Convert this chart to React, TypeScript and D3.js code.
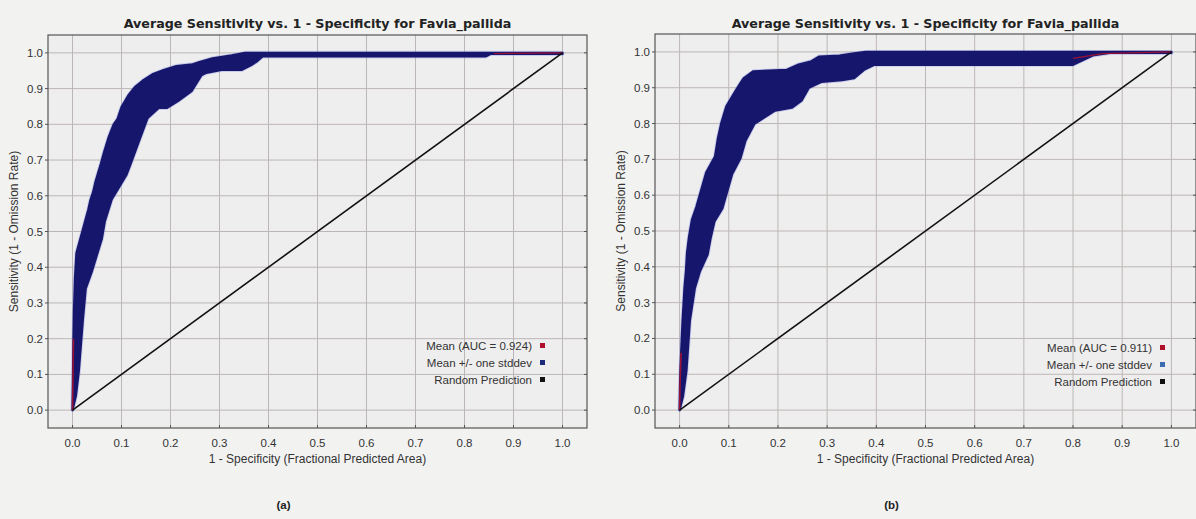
import React from "react";
import * as d3 from "d3";

// Shared axis ticks (both axes run 0.0 … 1.0)
const xTicks = [0, 0.1, 0.2, 0.3, 0.4, 0.5, 0.6, 0.7, 0.8, 0.9, 1.0];
const yTicks = [0, 0.1, 0.2, 0.3, 0.4, 0.5, 0.6, 0.7, 0.8, 0.9, 1.0];

const chartTitle = "Average Sensitivity vs. 1 - Specificity for Favia_pallida";
const xLabel = "1 - Specificity (Fractional Predicted Area)";
const yLabel = "Sensitivity (1 - Omission Rate)";
const legendLabelsA = ["Mean (AUC = 0.924)", "Mean +/- one stddev", "Random Prediction"];
const legendLabelsB = ["Mean (AUC = 0.911)", "Mean +/- one stddev", "Random Prediction"];

// Panel (a): upper (mean + sd) boundary, [1 - specificity, sensitivity]
const upperA: [number, number][] = [
  [0, 0], [0.001, 0.1], [0.002, 0.2], [0.003, 0.28], [0.005, 0.37], [0.008, 0.44],
  [0.014, 0.47], [0.02, 0.5], [0.026, 0.53], [0.032, 0.56], [0.037, 0.59],
  [0.042, 0.61], [0.047, 0.64], [0.058, 0.69], [0.064, 0.72], [0.074, 0.765],
  [0.084, 0.8], [0.092, 0.815], [0.1, 0.848], [0.115, 0.883], [0.128, 0.905],
  [0.143, 0.922], [0.163, 0.94], [0.186, 0.952], [0.212, 0.963], [0.245, 0.968],
  [0.259, 0.974], [0.286, 0.985], [0.325, 0.993], [0.352, 1.0], [1.0, 1.0],
];
// Panel (a): lower (mean - sd) boundary, from right to left
const lowerA: [number, number][] = [
  [1.0, 0.997], [0.853, 0.997], [0.843, 0.99], [0.388, 0.99], [0.375, 0.975],
  [0.365, 0.966], [0.345, 0.952], [0.304, 0.952], [0.273, 0.944], [0.263, 0.937],
  [0.243, 0.893], [0.216, 0.866], [0.193, 0.846], [0.176, 0.846], [0.153, 0.817],
  [0.135, 0.75], [0.12, 0.694], [0.11, 0.658], [0.095, 0.624], [0.08, 0.59],
  [0.066, 0.528], [0.06, 0.48], [0.05, 0.435], [0.04, 0.39], [0.027, 0.34],
  [0.021, 0.25], [0.013, 0.11], [0.007, 0.04], [0, 0],
];
// Panel (a): mean curve
const meanA: [number, number][] = [
  [0, 0], [0.001, 0.1], [0.002, 0.2], [0.01, 0.3], [0.02, 0.41], [0.04, 0.51],
  [0.06, 0.6], [0.08, 0.69], [0.1, 0.75], [0.13, 0.83], [0.16, 0.88], [0.2, 0.91],
  [0.25, 0.945], [0.3, 0.967], [0.36, 0.99], [0.4, 0.996], [0.86, 0.998], [1.0, 1.0],
];

// Panel (b): upper boundary
const upperB: [number, number][] = [
  [0, 0], [0.001, 0.081], [0.003, 0.157], [0.006, 0.25], [0.01, 0.343],
  [0.013, 0.39], [0.015, 0.438], [0.019, 0.483], [0.025, 0.531], [0.034, 0.567],
  [0.044, 0.615], [0.054, 0.663], [0.072, 0.708], [0.078, 0.76], [0.085, 0.803],
  [0.095, 0.848], [0.116, 0.896], [0.13, 0.926], [0.15, 0.946], [0.218, 0.95],
  [0.242, 0.965], [0.268, 0.974], [0.284, 0.987], [0.325, 0.99], [0.351, 0.995],
  [0.378, 1.0], [1.0, 1.0],
];
// Panel (b): lower boundary, from right to left
const lowerB: [number, number][] = [
  [1.0, 0.997], [0.874, 0.997], [0.84, 0.99], [0.8, 0.964], [0.396, 0.964],
  [0.375, 0.95], [0.355, 0.927], [0.33, 0.921], [0.288, 0.916], [0.263, 0.9],
  [0.248, 0.864], [0.228, 0.844], [0.194, 0.836], [0.171, 0.816], [0.152, 0.799],
  [0.134, 0.752], [0.124, 0.704], [0.107, 0.659], [0.087, 0.563], [0.071, 0.527],
  [0.063, 0.479], [0.057, 0.434], [0.041, 0.386], [0.031, 0.34], [0.021, 0.25],
  [0.014, 0.11], [0.007, 0.039], [0, 0],
];
// Panel (b): mean curve
const meanB: [number, number][] = [
  [0, 0], [0.001, 0.08], [0.003, 0.16], [0.01, 0.28], [0.02, 0.4], [0.04, 0.52],
  [0.06, 0.61], [0.08, 0.68], [0.1, 0.77], [0.13, 0.85], [0.17, 0.9], [0.22, 0.92],
  [0.27, 0.94], [0.32, 0.955], [0.38, 0.98], [0.8, 0.982], [0.86, 0.995], [1.0, 1.0],
];

// Random prediction diagonal
const randomLine: [number, number][] = [[0, 0], [1, 1]];

const FONT = "'Liberation Sans', Arial, sans-serif";
const TITLE_FONT = "'DejaVu Sans', Verdana, sans-serif";
const BAND = "#16176c";
const MEAN = "#b0102a";

type PanelProps = {
  left: number; right: number; top: number; bottom: number;
  upper: [number, number][]; lower: [number, number][]; mean: [number, number][];
  legend: string[]; legendColors: string[]; legendX: number; legendY: number; tag: string;
};

function Panel(p: PanelProps) {
  const x = d3.scaleLinear().domain([-0.05, 1.05]).range([p.left, p.right]);
  const y = d3.scaleLinear().domain([-0.05, 1.05]).range([p.bottom, p.top]);
  const line = d3.line<[number, number]>().x((d) => x(d[0])).y((d) => y(d[1]));
  const bandPath = line([...p.upper, ...p.lower]) + "Z";
  const cx = (p.left + p.right) / 2;
  const cy = (p.top + p.bottom) / 2;
  const clipId = "clip-" + p.tag;
  // Parts of the mean curve that show outside the stddev band
  const meanLow = p.mean.filter((d) => d[1] <= 0.2);
  const meanHigh = p.mean.filter((d) => d[0] >= 0.8);

  return (
    <g>
      <defs>
        <clipPath id={clipId}>
          <rect x={p.left} y={p.top} width={p.right - p.left} height={p.bottom - p.top} />
        </clipPath>
      </defs>
      <rect x={p.left} y={p.top} width={p.right - p.left} height={p.bottom - p.top} fill="#efeeee" />
      {xTicks.map((t) => (
        <line key={"gx" + t} x1={x(t)} x2={x(t)} y1={p.top} y2={p.bottom} stroke="#bdb6b6" strokeWidth={1} />
      ))}
      {yTicks.map((t) => (
        <line key={"gy" + t} x1={p.left} x2={p.right} y1={y(t)} y2={y(t)} stroke="#bdb6b6" strokeWidth={1} />
      ))}
      <g clipPath={`url(#${clipId})`}>
        <path d={bandPath} fill="none" stroke="#8e96e6" strokeWidth={4} strokeOpacity={0.4} strokeLinejoin="round" />
        <path d={bandPath} fill={BAND} stroke={BAND} strokeWidth={2.2} strokeLinejoin="round" />
        <path d={line(meanLow) || ""} fill="none" stroke={MEAN} strokeWidth={1.6} strokeOpacity={0.85} />
        <path d={line(meanHigh) || ""} fill="none" stroke={MEAN} strokeWidth={1.2} strokeOpacity={0.85} />
        <path d={line(randomLine) || ""} fill="none" stroke="#111" strokeWidth={1.6} />
      </g>
      <rect x={p.left} y={p.top} width={p.right - p.left} height={p.bottom - p.top} fill="none" stroke="#555" strokeWidth={1.2} />
      {xTicks.map((t) => (
        <g key={"xt" + t}>
          <line x1={x(t)} x2={x(t)} y1={p.bottom} y2={p.bottom - 3} stroke="#555" />
          <text x={x(t)} y={p.bottom + 19} textAnchor="middle" fontSize={11.5} fontFamily={FONT} fill="#333">
            {d3.format(".1f")(t)}
          </text>
        </g>
      ))}
      {yTicks.map((t) => (
        <g key={"yt" + t}>
          <line x1={p.left - 3} x2={p.left} y1={y(t)} y2={y(t)} stroke="#555" />
          <line x1={p.right - 3} x2={p.right} y1={y(t)} y2={y(t)} stroke="#555" />
          <text x={p.left - 5} y={y(t) + 4} textAnchor="end" fontSize={11.5} fontFamily={FONT} fill="#333">
            {d3.format(".1f")(t)}
          </text>
        </g>
      ))}
      <text x={cx} y={28} textAnchor="middle" fontSize={12.7} fontWeight="bold" fontFamily={TITLE_FONT} fill="#222">
        {chartTitle}
      </text>
      <text x={cx} y={p.bottom + 35} textAnchor="middle" fontSize={12} fontFamily={FONT} fill="#333">
        {xLabel}
      </text>
      <text transform={`translate(${p.left - 30},${cy}) rotate(-90)`} textAnchor="middle" fontSize={12} fontFamily={FONT} fill="#333">
        {yLabel}
      </text>
      {p.legend.map((s, i) => (
        <g key={"lg" + i}>
          <text x={p.legendX} y={p.legendY + i * 17} textAnchor="end" fontSize={11.5} fontFamily={FONT} fill="#333">
            {s}
          </text>
          <rect x={p.legendX + 8} y={p.legendY + i * 17 - 7} width={5} height={5} fill={p.legendColors[i]} />
        </g>
      ))}
      <text x={cx - 34} y={509} textAnchor="middle" fontSize={11.5} fontWeight="bold" fontFamily={FONT} fill="#222">
        {p.tag}
      </text>
    </g>
  );
}

export default function App() {
  return (
    <svg width={1196} height={519} style={{ position: "absolute", left: 0, top: 0, background: "#f2f2f1" }}>
      <rect x={0} y={0} width={1196} height={519} fill="#f2f2f1" />
      <Panel left={48} right={587} top={35} bottom={428} upper={upperA} lower={lowerA} mean={meanA}
        legend={legendLabelsA} legendColors={[MEAN, "#1d2a7a", "#111"]} legendX={532} legendY={350} tag="(a)" />
      <Panel left={655} right={1196} top={34} bottom={428} upper={upperB} lower={lowerB} mean={meanB}
        legend={legendLabelsB} legendColors={[MEAN, "#3b6bb0", "#111"]} legendX={1152} legendY={352} tag="(b)" />
    </svg>
  );
}
